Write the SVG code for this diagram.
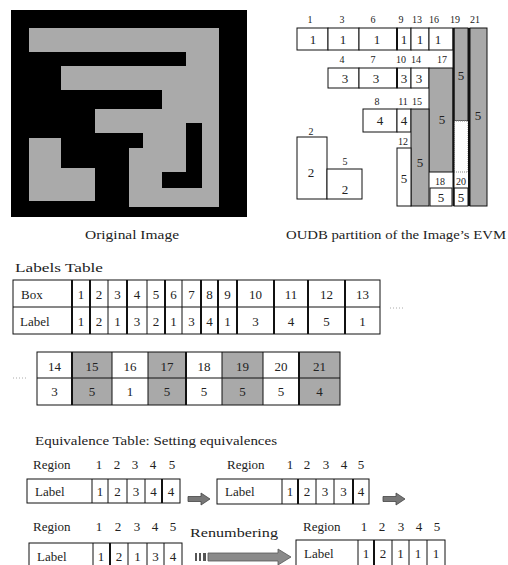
<svg xmlns="http://www.w3.org/2000/svg" width="508" height="565" viewBox="0 0 508 565">
<style>
text{font-family:"Liberation Serif","Times New Roman",serif;fill:#222;text-anchor:middle}
.cap{font-size:13px}
.s{font-size:10px}
.v{font-size:13px}
.l{text-anchor:start}
.w{fill:#fff;stroke:#111;stroke-width:1}
.g{fill:#a9a9a9;stroke:#111;stroke-width:1}
.d{stroke:#111;stroke-width:1;fill:none}
.dk{stroke:#111;stroke-width:2;fill:none}
</style>
<defs>
<g id="arr"><path d="M0,-2.5 H13 V-6 L22,0 L13,6 V2.5 H0 Z" fill="#777" stroke="#444" stroke-width="0.8"/></g>
</defs>

<g id="original-image">
<rect x="11" y="10" width="236" height="207" fill="#000"/>
<path d="M29,28 H219 V207 H129 V148 H143 V133 H95 V109 H162 V90 H61 V66 H186 V52 H29 Z" fill="#aaa"/>
<path d="M186,123 H202 V188 H162 V172 H186 Z" fill="#000"/>
<path d="M29,138 H61 V168 H95 V201 H29 Z" fill="#aaa"/>
<text class="cap" x="132" y="239" textLength="94" lengthAdjust="spacingAndGlyphs">Original Image</text>
</g>

<g id="partition">
<rect class="w" x="297" y="28" width="31" height="22"/>
<rect class="w" x="328" y="28" width="31" height="22"/>
<rect class="w" x="359" y="28" width="38" height="22"/>
<rect class="w" x="397" y="28" width="14" height="22"/>
<rect class="w" x="411" y="28" width="18" height="22"/>
<rect class="w" x="429" y="28" width="24" height="22"/>
<rect class="w" x="328" y="68" width="31" height="20"/>
<rect class="w" x="359" y="68" width="38" height="20"/>
<rect class="w" x="397" y="68" width="14" height="20"/>
<rect class="w" x="411" y="68" width="18" height="20"/>
<rect class="g" x="429" y="68" width="24" height="104"/>
<rect class="g" x="454" y="28" width="14" height="93"/>
<rect x="454" y="121" width="14" height="51" fill="#fff" stroke="#888" stroke-dasharray="1,1"/>
<rect class="g" x="470" y="28" width="17" height="178"/>
<rect class="w" x="363" y="109" width="34" height="23"/>
<rect class="w" x="397" y="109" width="14" height="23"/>
<rect class="g" x="411" y="109" width="18" height="97"/>
<rect class="w" x="397" y="148" width="14" height="58"/>
<rect class="w" x="430" y="188" width="22" height="18"/>
<rect class="w" x="454" y="188" width="14" height="18"/>
<rect class="w" x="297" y="137" width="30" height="62"/>
<rect class="w" x="327" y="169" width="35" height="30"/>
<path class="dk" d="M453.5,28 V206 M469,28 V206 M397,28 V50 M397,68 V88"/>
<g class="s">
<text x="310" y="23">1</text><text x="342" y="23">3</text><text x="373" y="23">6</text><text x="401" y="23">9</text><text x="417" y="23">13</text><text x="434" y="23">16</text><text x="455" y="23">19</text><text x="475" y="23">21</text>
<text x="342" y="63">4</text><text x="373" y="63">7</text><text x="401" y="63">10</text><text x="416" y="63">14</text><text x="442" y="63">17</text>
<text x="377" y="105">8</text><text x="403" y="105">11</text><text x="417" y="105">15</text>
<text x="403" y="145">12</text>
<text x="440" y="185">18</text><text x="461" y="185">20</text>
<text x="311" y="135">2</text><text x="345" y="165">5</text>
</g>
<g class="v">
<text x="313" y="44">1</text><text x="343" y="44">1</text><text x="377" y="44">1</text><text x="404" y="44">1</text><text x="420" y="44">1</text><text x="438" y="44">1</text>
<text x="345" y="83">3</text><text x="376" y="83">3</text><text x="404" y="83">3</text><text x="419" y="83">3</text>
<text x="442" y="124">5</text><text x="461" y="80">5</text><text x="478" y="120">5</text>
<text x="380" y="125">4</text><text x="404" y="125">4</text>
<text x="420" y="167">5</text><text x="404" y="183">5</text>
<text x="441" y="202">5</text><text x="461" y="202">5</text>
<text x="311" y="177">2</text><text x="345" y="194">2</text>
</g>
<text class="cap" x="396" y="239" textLength="220" lengthAdjust="spacingAndGlyphs">OUDB partition of the Image’s EVM</text>
</g>

<g id="labels-table">
<text class="cap l" x="15" y="272" textLength="88" lengthAdjust="spacingAndGlyphs">Labels Table</text>
<rect class="w" x="13" y="280" width="367" height="54"/>
<path class="d" d="M13,307 H380"/>
<path class="dk" d="M72,280 V334 M90,280 V334 M127,280 V334 M165,280 V334 M201,280 V334 M218,280 V334 M237,280 V334 M274,280 V334 M308,280 V334 M345,280 V334"/>
<path class="d" d="M108,280 V334 M147,280 V334 M182,280 V334"/>
<text class="v l" x="21" y="299">Box</text>
<text class="v l" x="20" y="326">Label</text>
<g class="v">
<text x="81" y="299">1</text><text x="99" y="299">2</text><text x="117.5" y="299">3</text><text x="137" y="299">4</text><text x="156" y="299">5</text><text x="173.5" y="299">6</text><text x="191.5" y="299">7</text><text x="209.5" y="299">8</text><text x="227.5" y="299">9</text><text x="255.5" y="299">10</text><text x="291" y="299">11</text><text x="326.5" y="299">12</text><text x="362.5" y="299">13</text>
<text x="81" y="326">1</text><text x="99" y="326">2</text><text x="117.5" y="326">1</text><text x="137" y="326">3</text><text x="156" y="326">2</text><text x="173.5" y="326">1</text><text x="191.5" y="326">3</text><text x="209.5" y="326">4</text><text x="227.5" y="326">1</text><text x="255.5" y="326">3</text><text x="291" y="326">4</text><text x="326.5" y="326">5</text><text x="362.5" y="326">1</text>
</g>
<path d="M390,308 H405" stroke="#aaa" stroke-width="1" stroke-dasharray="1,2"/>
</g>

<g id="labels-table-2">
<path d="M13,378 H28" stroke="#aaa" stroke-width="1" stroke-dasharray="1,2"/>
<rect x="37" y="352" width="303" height="53" fill="#fff"/>
<rect x="72" y="352" width="40" height="53" fill="#a9a9a9"/>
<rect x="148" y="352" width="38" height="53" fill="#a9a9a9"/>
<rect x="222" y="352" width="41" height="53" fill="#a9a9a9"/>
<rect x="299" y="352" width="41" height="53" fill="#a9a9a9"/>
<rect x="37" y="352" width="303" height="53" fill="none" stroke="#111"/>
<path class="d" d="M37,378 H340 M112,352 V405 M148,352 V405 M222,352 V405 M263,352 V405"/>
<path class="dk" d="M72,352 V405 M186,352 V405 M299,352 V405"/>
<g class="v">
<text x="54.5" y="371">14</text><text x="92" y="371">15</text><text x="130" y="371">16</text><text x="167" y="371">17</text><text x="204" y="371">18</text><text x="242.5" y="371">19</text><text x="281" y="371">20</text><text x="319.5" y="371">21</text>
<text x="54.5" y="396">3</text><text x="92" y="396">5</text><text x="130" y="396">1</text><text x="167" y="396">5</text><text x="204" y="396">5</text><text x="242.5" y="396">5</text><text x="281" y="396">5</text><text x="319.5" y="396">4</text>
</g>
</g>

<text id="eq-title" class="cap l" x="35" y="445" textLength="242" lengthAdjust="spacingAndGlyphs">Equivalence Table: Setting equivalences</text>

<g id="eq-table-1">
<text class="v l" x="33" y="469">Region</text>
<text class="v" x="99" y="469">1</text><text class="v" x="117" y="469">2</text><text class="v" x="135" y="469">3</text><text class="v" x="153" y="469">4</text><text class="v" x="172" y="469">5</text>
<rect class="w" x="27" y="479" width="153" height="24"/>
<path class="d" d="M92,479 V503 M108,479 V503 M127,479 V503 M145,479 V503"/>
<path class="dk" d="M162,479 V503"/>
<text class="v l" x="35" y="496">Label</text>
<text class="v" x="100" y="496">1</text><text class="v" x="117.5" y="496">2</text><text class="v" x="136" y="496">3</text><text class="v" x="153.5" y="496">4</text><text class="v" x="171" y="496">4</text>
</g>

<g id="eq-table-2">
<text class="v l" x="227" y="469">Region</text>
<text class="v" x="290" y="469">1</text><text class="v" x="307" y="469">2</text><text class="v" x="326" y="469">3</text><text class="v" x="344" y="469">4</text><text class="v" x="361" y="469">5</text>
<rect class="w" x="217" y="479" width="152" height="25"/>
<path class="d" d="M282,479 V504 M316,479 V504 M334,479 V504"/>
<path class="dk" d="M298,479 V504 M353,479 V504"/>
<text class="v l" x="225" y="496">Label</text>
<text class="v" x="290" y="496">1</text><text class="v" x="307" y="496">2</text><text class="v" x="325" y="496">3</text><text class="v" x="343.5" y="496">3</text><text class="v" x="361" y="496">4</text>
</g>

<g id="eq-table-3">
<text class="v l" x="33" y="531">Region</text>
<text class="v" x="99" y="531">1</text><text class="v" x="118" y="531">2</text><text class="v" x="137" y="531">3</text><text class="v" x="155" y="531">4</text><text class="v" x="173" y="531">5</text>
<rect class="w" x="29" y="543" width="153" height="26"/>
<path class="d" d="M93,543 V569 M128,543 V569 M147,543 V569 M164,543 V569"/>
<path class="dk" d="M110,543 V569"/>
<text class="v l" x="37" y="561">Label</text>
<text class="v" x="101" y="561">1</text><text class="v" x="119" y="561">2</text><text class="v" x="137.5" y="561">1</text><text class="v" x="155.5" y="561">3</text><text class="v" x="173" y="561">4</text>
</g>

<g id="eq-table-4">
<text class="v l" x="303" y="531">Region</text>
<text class="v" x="364" y="531">1</text><text class="v" x="382" y="531">2</text><text class="v" x="401" y="531">3</text><text class="v" x="419" y="531">4</text><text class="v" x="437" y="531">5</text>
<rect class="w" x="296" y="540" width="149" height="29"/>
<path class="d" d="M358,540 V569 M392,540 V569 M409,540 V569 M427,540 V569"/>
<path class="dk" d="M374,540 V569"/>
<text class="v l" x="304" y="558">Label</text>
<text class="v" x="366" y="558">1</text><text class="v" x="383" y="558">2</text><text class="v" x="400.5" y="558">1</text><text class="v" x="418" y="558">1</text><text class="v" x="436" y="558">1</text>
</g>

<g id="connectors">
<use href="#arr" x="188" y="499"/>
<use href="#arr" x="383" y="499"/>
<g id="renumber-arrow">
<rect x="195" y="553" width="2" height="8" fill="#555"/>
<rect x="199" y="553" width="2" height="8" fill="#555"/>
<rect x="203" y="553" width="3" height="8" fill="#555"/>
<path d="M208,553 H278 V549 L291,557 L278,565 V561 H208 Z" fill="#8a8a8a" stroke="#555" stroke-width="0.8"/>
</g>
<text class="cap" x="234" y="537" textLength="88" lengthAdjust="spacingAndGlyphs">Renumbering</text>
</g>
</svg>
